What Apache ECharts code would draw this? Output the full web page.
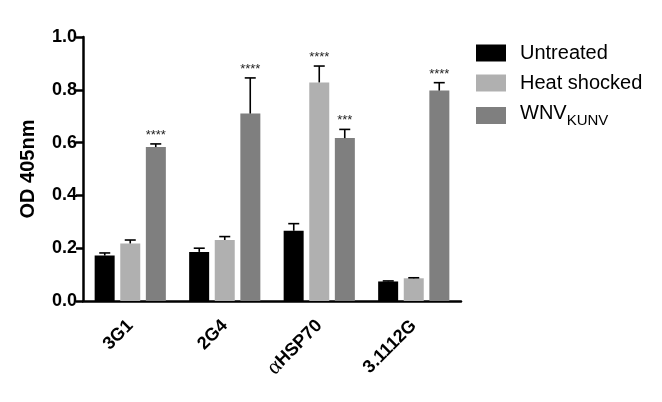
<!DOCTYPE html>
<html><head><meta charset="utf-8">
<script src="https://cdn.jsdelivr.net/npm/echarts@6/dist/echarts.min.js"></script>
<style>html,body{margin:0;padding:0;background:#fff}#c{width:662px;height:402px}</style>
</head><body><div id="c"></div>
<script>
const categories = ['3G1', '2G4', 'αHSP70', '3.1112G'];
const seriesNames = ['Untreated', 'Heat shocked', 'WNV_KUNV'];
const untreated = [0.172, 0.186, 0.266, 0.074];
const heatShocked = [0.218, 0.231, 0.828, 0.086];
const wnv = [0.583, 0.710, 0.617, 0.797];
const untreatedErr = [0.010, 0.014, 0.027, 0.002];
const heatShockedErr = [0.013, 0.013, 0.062, 0.002];
const wnvErr = [0.012, 0.135, 0.033, 0.030];
const untreatedSig = ['', '', '', ''];
const heatShockedSig = ['', '', '****', ''];
const wnvSig = ['****', '****', '***', '****'];
const yTicks = [0.0, 0.2, 0.4, 0.6, 0.8, 1.0];

const colors = ['#000000', '#b0b0b0', '#7f7f7f'];
const values = [untreated, heatShocked, wnv];
const errs = [untreatedErr, heatShockedErr, wnvErr];
const sigs = [untreatedSig, heatShockedSig, wnvSig];
const offsets = [-25.5, 0, 25.5];
const font = 'Liberation Sans, Arial, sans-serif';

const chart = echarts.init(document.getElementById('c'));
const series = [];
values.forEach((v, i) => {
  series.push({
    name: seriesNames[i], type: 'bar', data: v, barWidth: 20, barGap: '28%',
    itemStyle: { color: colors[i] }, z: 2
  });
});
values.forEach((v, i) => {
  series.push({
    type: 'custom', name: seriesNames[i] + '_err', z: 3, silent: true,
    data: v.map((val, k) => [k, val, errs[i][k]]),
    renderItem: function (params, api) {
      const k = api.value(0), val = api.value(1), e = api.value(2);
      const sig = sigs[i][k];
      const base = api.coord([k, val]);
      const top = api.coord([k, val + e]);
      const x = base[0] + offsets[i];
      const children = [
        { type: 'line', shape: { x1: x, y1: base[1], x2: x, y2: top[1] }, style: { stroke: '#000', lineWidth: 1.6 } },
        { type: 'line', shape: { x1: x - 5.5, y1: top[1], x2: x + 5.5, y2: top[1] }, style: { stroke: '#000', lineWidth: 1.6 } }
      ];
      if (sig) {
        children.push({ type: 'text', x: x, y: top[1] - 2, style: { text: sig, fill: '#222', font: '13px ' + font, align: 'center', verticalAlign: 'bottom' } });
      }
      return { type: 'group', children: children };
    }
  });
});

chart.setOption({
  animation: false,
  grid: { left: 83, right: 201, top: 37, bottom: 101, containLabel: false },
  legend: {
    data: seriesNames, orient: 'vertical', left: 476, top: 43, padding: 0,
    itemWidth: 30, itemHeight: 17, itemGap: 10, icon: 'rect',
    textStyle: {
      fontFamily: font, fontSize: 20, color: '#000', padding: [0, 0, 0, 9],
      rich: {
        a: { fontFamily: font, fontSize: 20, color: '#000', verticalAlign: 'bottom', padding: [0, 0, 5, 0] },
        s: { fontFamily: font, fontSize: 15, color: '#000', verticalAlign: 'bottom' }
      }
    },
    formatter: n => n === 'WNV_KUNV' ? '{a|WNV}{s|KUNV}' : n
  },
  xAxis: {
    type: 'category', data: categories,
    axisLine: { lineStyle: { color: '#000', width: 2.5 } },
    axisTick: { alignWithLabel: true, length: 7, lineStyle: { width: 2.5, color: '#000' } },
    axisLabel: {
      rotate: 45, margin: 22, color: '#000', fontFamily: font, fontWeight: 'bold', fontSize: 18,
      formatter: v => v.startsWith('α') ? '{g|α}{b|' + v.slice(1) + '}' : '{b|' + v + '}',
      rich: {
        b: { fontFamily: font, fontWeight: 'bold', fontSize: 18, color: '#000' },
        g: { fontFamily: 'Liberation Serif, DejaVu Serif, serif', fontWeight: 'normal', fontSize: 22, color: '#000' }
      }
    }
  },
  yAxis: {
    type: 'value', min: 0, max: 1.0, interval: 0.2,
    name: 'OD 405nm', nameLocation: 'middle', nameGap: 45, nameRotate: 90,
    nameTextStyle: { fontFamily: font, fontWeight: 'bold', fontSize: 20, color: '#000' },
    axisLine: { show: true, lineStyle: { color: '#000', width: 2.5 } },
    axisTick: { show: true, length: 7, lineStyle: { width: 2.5, color: '#000' } },
    splitLine: { show: false },
    axisLabel: {
      color: '#000', fontFamily: font, fontWeight: 'bold', fontSize: 18, margin: 6,
      formatter: v => { const t = yTicks.find(t => Math.abs(t - v) < 1e-9); return (t !== undefined ? t : v).toFixed(1); }
    }
  },
  series: series
});
</script></body></html>
